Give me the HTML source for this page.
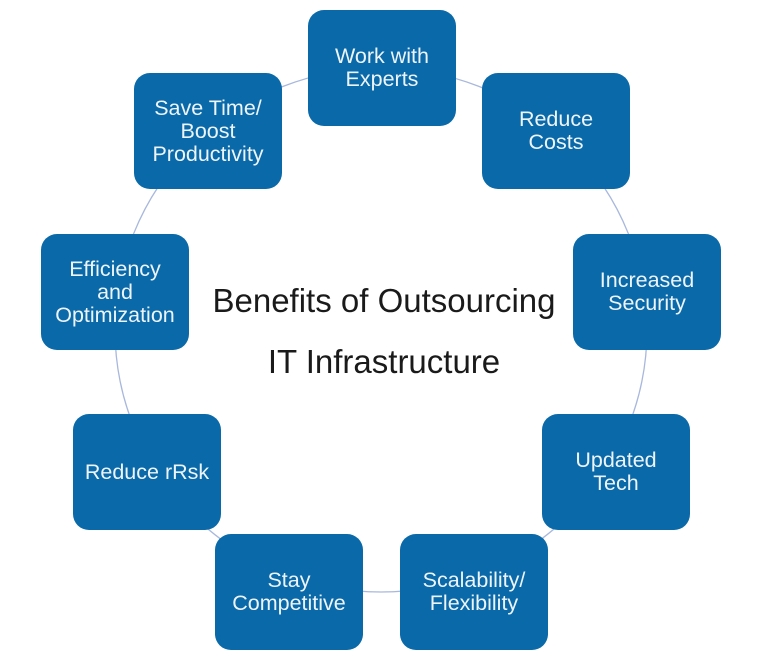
<!DOCTYPE html>
<html><head><style>
body{margin:0;width:768px;height:666px;background:#fff;position:relative;overflow:hidden;font-family:"Liberation Sans",sans-serif}
.b{position:absolute;width:148px;height:116px;background:#0a69a8;border-radius:16px;color:#eef4fa;font-size:21.5px;line-height:23px;display:flex;align-items:center;justify-content:center;text-align:center}
.t{position:absolute;width:768px;text-align:center;font-size:33px;color:#1a1a1a;left:0}
</style></head><body>
<svg width="768" height="666" style="position:absolute;left:0;top:0"><ellipse cx="381" cy="330" rx="266" ry="262" fill="none" stroke="#a8b8dc" stroke-width="1.3"/></svg>
<div class="b" style="left:308px;top:10px">Work with<br>Experts</div>
<div class="b" style="left:482px;top:73px">Reduce<br>Costs</div>
<div class="b" style="left:573px;top:234px">Increased<br>Security</div>
<div class="b" style="left:542px;top:414px">Updated<br>Tech</div>
<div class="b" style="left:400px;top:534px">Scalability/<br>Flexibility</div>
<div class="b" style="left:215px;top:534px">Stay<br>Competitive</div>
<div class="b" style="left:73px;top:414px">Reduce rRsk</div>
<div class="b" style="left:41px;top:234px">Efficiency<br>and<br>Optimization</div>
<div class="b" style="left:134px;top:73px">Save Time/<br>Boost<br>Productivity</div>
<div class="t" style="top:282px;left:0px">Benefits of Outsourcing</div>
<div class="t" style="top:343px;left:0px">IT Infrastructure</div>
</body></html>
